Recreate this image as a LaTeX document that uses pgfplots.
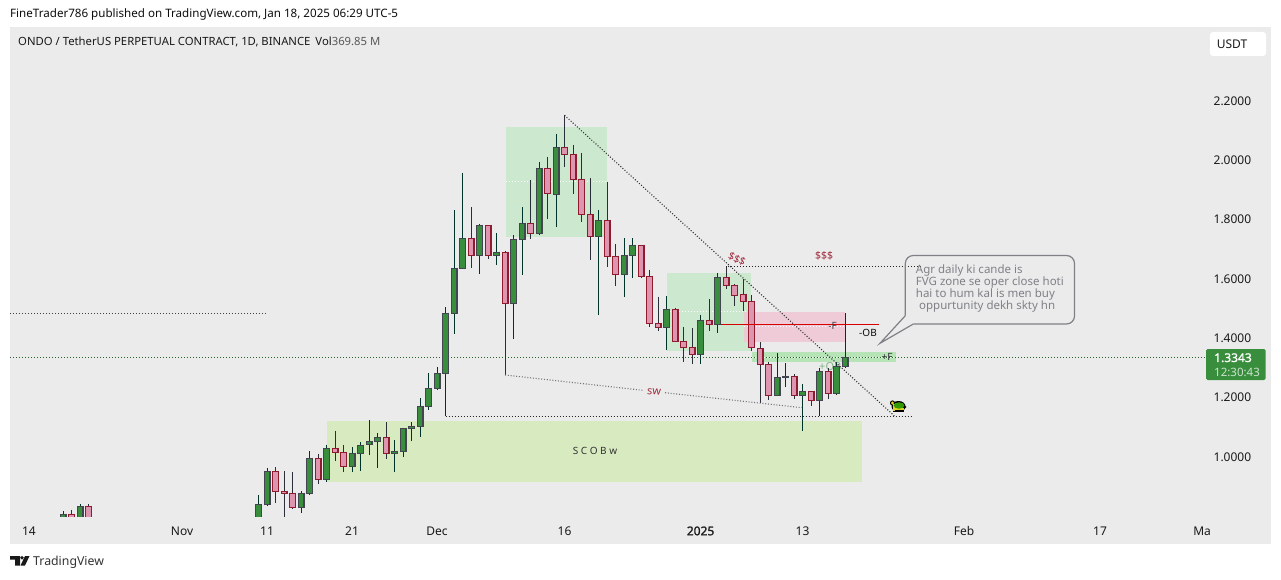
\documentclass[border=0pt]{standalone}
\usepackage{fontspec}
\setmainfont{Noto Sans}
\newfontfamily\fakebold{Noto Sans}[FakeBold=1.4]
\usepackage{pgfplots}
\usepackage{pgfplotstable}
\pgfplotsset{compat=1.18}
\definecolor{panel}{HTML}{EBEBEB}
\definecolor{upfill}{HTML}{388E3C}
\definecolor{upedge}{HTML}{434651}
\definecolor{upwick}{HTML}{00332A}
\definecolor{dnfill}{HTML}{DE95B0}
\definecolor{dnedge}{HTML}{8E1B2E}
\definecolor{dnwick}{HTML}{2A2E39}
\definecolor{zonegreen}{HTML}{C5E8C9}
\definecolor{zonepink}{HTML}{F1C4D3}
\definecolor{zoneF}{HTML}{A9E3AB}
\definecolor{zonescob}{HTML}{D4EBB6}
\definecolor{annot}{HTML}{A02C3E}
\definecolor{bubble}{HTML}{7F8187}
\newcommand{\tvfont}[1]{\fontsize{#1}{#1}\selectfont}

% day 0 = 1 Dec 2024; low/body values below 0.80 are cut off by the pane
\pgfplotstableread{
d high top bot low
-44 0.8163 0.8051 0.78 0.76
-42 0.8399 0.8320 0.78 0.76
-21 0.8702 0.8388 0.78 0.76
-20 0.9601 0.9500 0.8388 0.8332
-16 0.8837 0.8759 0.8276 0.8096
-15 1.0186 0.9938 0.8747 0.8702
-13 1.0388 1.0275 0.9231 0.9141
-10 1.0309 1.0107 0.9657 0.9478
-9 1.0489 1.0377 1.0096 0.9511
-8 1.1231 1.0511 1.0399 1.0051
-7 1.0781 1.0646 1.0511 0.9613
-5 1.0556 1.0174 1.0096 0.9478
-4 1.0950 1.0950 1.0163 0.9983
-3 1.1163 1.1017 1.0938 1.0523
-2 1.1972 1.1691 1.1006 1.0657
-1 1.2815 1.2298 1.1680 1.1568
0 1.3017 1.2803 1.2298 1.2242
1 1.5039 1.4826 1.2803 1.1365
2 1.8309 1.6343 1.4826 1.4141
3 1.9556 1.7354 1.6343 1.6343
5 1.7826 1.7792 1.6781 1.6163
7 1.7534 1.6882 1.6781 1.6466
9 1.7455 1.7320 1.5163 1.3972
10 1.8410 1.7860 1.7320 1.6129
12 1.9927 1.9714 1.7523 1.7466
14 2.0871 2.0421 1.8837 1.7747
19 1.8309 1.7961 1.7421 1.4781
22 1.7354 1.6781 1.6141 1.5388
23 1.7354 1.7118 1.6781 1.6028
27 1.5410 1.4961 1.4354 1.3590
31 1.4770 1.4590 1.3444 1.3118
33 1.6186 1.6040 1.4455 1.4174
40 1.3489 1.2669 1.2062 1.2062
41 1.3141 1.2702 1.2669 1.2332
43 1.2433 1.2197 1.2062 1.0860
45 1.2972 1.2871 1.1893 1.1354
47 1.3174 1.3040 1.2129 1.2084
48 1.4826 1.3343 1.3040 1.2972
}\upcandles

\pgfplotstableread{
d high top bot low
-43 0.8197 0.8051 0.78 0.76
-41 0.8399 0.8320 0.78 0.76
-19 0.9635 0.9500 0.8815 0.8433
-18 0.9511 0.8826 0.8747 0.76
-17 0.9478 0.8759 0.8276 0.8242
-14 1.0084 0.9938 0.9231 0.9073
-12 1.0860 1.0275 1.0141 0.9848
-11 1.0388 1.0141 0.9657 0.9478
-6 1.1163 1.0646 1.0096 0.9916
4 1.8410 1.7354 1.6781 1.6365
6 1.7792 1.7792 1.6781 1.6669
8 1.6916 1.6882 1.5163 1.2747
11 1.9320 1.7860 1.7523 1.7343
13 2.0096 1.9714 1.8871 1.8017
15 2.1500 2.0421 2.0186 1.9770
16 2.0500 2.0186 1.9343 1.8860
17 2.0230 1.9343 1.8163 1.7905
18 1.9377 1.8163 1.7421 1.6624
20 1.9253 1.7961 1.6747 1.6399
21 1.7163 1.6747 1.6141 1.5759
24 1.7118 1.7118 1.6073 1.6028
25 1.6287 1.6073 1.4489 1.4365
26 1.5377 1.4489 1.4354 1.4242
28 1.5006 1.4961 1.3882 1.3860
29 1.4354 1.3882 1.3680 1.3197
30 1.4320 1.3680 1.3444 1.3118
32 1.5298 1.4590 1.4455 1.4242
34 1.6422 1.6040 1.5770 1.5646
35 1.5815 1.5770 1.5433 1.5085
36 1.5972 1.5467 1.5231 1.4893
37 1.5433 1.5231 1.3680 1.3556
38 1.3849 1.3646 1.3107 1.1815
39 1.3174 1.3107 1.2062 1.1893
42 1.2770 1.2702 1.2062 1.1950
44 1.2197 1.2197 1.1893 1.1714
46 1.2972 1.2871 1.2129 1.1950
}\downcandles

% table, wick colour, edge colour, fill colour
\newcommand{\candles}[4]{%
  \addplot[draw=none, error bars/.cd, y dir=minus, y explicit, error mark=none,
    error bar style={draw=#2, line width=1pt}]
    table[x=d, y=high, y error minus expr=\thisrow{high}-\thisrow{low}] {#1};
  \addplot[draw=none, error bars/.cd, y dir=minus, y explicit, error mark=none,
    error bar style={draw=#3, line width=7pt}]
    table[x=d, y expr=\thisrow{top}+0.002, y error minus expr=\thisrow{top}-\thisrow{bot}+0.004] {#1};
  \addplot[draw=none, error bars/.cd, y dir=minus, y explicit, error mark=none,
    error bar style={draw=#4, line width=4.8pt}]
    table[x=d, y expr=\thisrow{top}-0.002, y error minus expr={max(\thisrow{top}-\thisrow{bot}-0.004,0)}] {#1};
}
% x1 x2 y1 y2 colour
\newcommand{\zone}[5]{%
  \addplot[fill=#5, draw=none, fill opacity=.8] coordinates {(#1,#3) (#2,#3) (#2,#4) (#1,#4)};
}

\begin{document}
\begin{tikzpicture}[x=1pt,y=1pt]
\path[use as bounding box] (0,0) rectangle (1281,579);
\fill[white] (0,0) rectangle (1281,579);
\fill[panel] (10,35) rectangle (1271,552);

\node[anchor=west, text=upfill!60!panel, inner sep=0] at (819,212.5) {\tvfont{11}+OB};

\begin{axis}[
    at={(10pt,63pt)}, anchor=south west,
    scale only axis, width=1197pt, height=489pt,
    xmin=-50.235, xmax=90.588, ymin=0.79944, ymax=2.44776,
    axis line style={draw=none}, major tick length=0pt,
    xtick={-48,-30,-20,-10,0,15,31,43,62,78,90},
    xticklabels={14,Nov,11,21,Dec,16,{\fakebold 2025},13,Feb,17,Ma},
    xticklabel style={yshift=-7pt, text=black!90},
    ytick={1,1.2,1.4,1.6,1.8,2,2.2},
    yticklabel pos=right,
    yticklabel style={anchor=west, xshift=3pt, yshift=-.5pt, text=black!90},
    yticklabels={1.0000,1.2000,1.4000,1.6000,1.8000,2.0000,2.2000},
    tick label style={font=\tvfont{12}},
]
% zones
\zone{8.12}{20}{1.7409}{2.1107}{zonegreen}
\zone{27.06}{36.94}{1.3556}{1.6185}{zonegreen}
\zone{36.1}{48}{1.3860}{1.4871}{zonepink}
\zone{37.06}{54}{1.3186}{1.3523}{zoneF}
\zone{-12.94}{50}{0.9151}{1.1197}{zonescob}
% zone midlines
\addplot[white, line width=.8pt, dash pattern=on 1pt off 2pt] coordinates {(8.12,1.9277) (20,1.9277)};
\addplot[white, line width=.8pt, dash pattern=on 1pt off 2pt] coordinates {(27.06,1.4893) (36.94,1.4893)};
\addplot[white, line width=.8pt, dash pattern=on 1pt off 2pt] coordinates {(36.1,1.4389) (48,1.4389)};
\addplot[white, line width=.8pt, dash pattern=on 1pt off 2pt] coordinates {(37.06,1.3354) (54,1.3354)};
% levels
\addplot[black!75, line width=.8pt, dash pattern=on 1pt off 2pt] coordinates {(-50.2,1.4837) (-20,1.4837)};
\addplot[upfill!70!black, line width=.8pt, dash pattern=on 1pt off 2pt] coordinates {(-50.2,1.3343) (90.6,1.3343)};
\addplot[black!85, line width=.9pt, dash pattern=on 1pt off 2pt] coordinates {(1,1.1365) (56,1.1365)};
\addplot[black!85, line width=.9pt, dash pattern=on 1pt off 2pt] coordinates {(34.2,1.6411) (56.8,1.6411)};

\candles{\upcandles}{upwick}{upedge}{upfill}
\candles{\downcandles}{dnwick}{dnedge}{dnfill}

% trend lines and the -F line
\addplot[black!80, line width=1.1pt, dash pattern=on 1pt off 1.8pt] coordinates {(15,2.15) (53.9,1.1342)};
\addplot[black!55, line width=1.1pt, dash pattern=on 1pt off 1.8pt] coordinates {(8,1.2747) (24.24,1.2231)};
\addplot[black!55, line width=1.1pt, dash pattern=on 1pt off 1.8pt] coordinates {(26.82,1.2151) (42.9,1.1645)};
\addplot[red!85!black, line width=.8pt] coordinates {(33.4,1.4456) (52,1.4456)};
\end{axis}

% from here on: page pixels, y down
\begin{scope}[x=1pt,y=-1pt,shift={(0pt,579pt)}]
\node[anchor=west, inner sep=0, text=black!95] at (10,14) {\tvfont{11.6}FineTrader786 published on TradingView.com, Jan 18, 2025 06:29 UTC-5};
\node[anchor=west, inner sep=0, text=black!90] at (18,42) {\tvfont{11.3}ONDO / TetherUS PERPETUAL CONTRACT, 1D, BINANCE\hspace{5pt}Vol\textcolor{black!65}{369.85 M}};

\fill[white, rounded corners=3pt] (1210,32) rectangle (1266,56);
\node[inner sep=0, text=black!90] at (1232,44) {\tvfont{12}USDT};

\fill[upfill, rounded corners=1.5pt] (1206,349) rectangle (1265.5,380);
\node[anchor=west, inner sep=0, text=white] at (1214,357.7) {\tvfont{12}\fakebold 1.3343};
\node[anchor=west, inner sep=0, text=white!75!upfill] at (1214,372) {\tvfont{11.5}12:30:43};

% annotations
\node[inner sep=0, text=annot, rotate=-25] at (737,259) {\tvfont{10.5}\$\$\$};
\node[inner sep=0, text=annot] at (824,256) {\tvfont{10.5}\$\$\$};
\node[inner sep=0, text=annot, rotate=-5] at (654,392) {\tvfont{11}sw};
\node[inner sep=0, text=black!75] at (832.5,326) {\tvfont{10}-F};
\node[inner sep=0, text=black!95] at (868,332.5) {\tvfont{10}-OB};
\node[inner sep=0, text=black!80] at (887,356.5) {\tvfont{10}+F};
\node[inner sep=0, text=black!80] at (595,451) {\tvfont{10}S C O B w};

% callout
\draw[bubble, line width=1.2pt, rounded corners=8pt] (905.3,315.7) -- (905.3,255.5) -- (1074.5,255.5) -- (1074.5,324) -- (913.3,324);
\draw[bubble, line width=1.2pt] (905.3,315.7) -- (880,343.3) -- (913.3,324);
\foreach \yy/\xx/\tt in {271/915.7/Agr daily ki cande is, 283/915.7/FVG zone se oper close hoti, 295/915.7/hai to hum kal is men buy, 307/919/oppurtunity dekh skty hn}
  \node[anchor=west, inner sep=0, text=bubble] at (\xx,\yy) {\tvfont{11.5}\tt};

% turtle
\fill[black] (893,411.8) rectangle (904,409);
\fill[black] (905,407) ellipse (1.5 and 1);
\fill[black] (898.5,406.5) ellipse (7 and 5.5);
\fill[black] (892.5,403) circle (2.6);
\fill[yellow!85!black] (892.5,403) circle (1.7);
\fill[yellow!85!black] (892.5,404) rectangle (895,410.5);
\fill[yellow!85!black] (893,408) rectangle (904,409.5);
\fill[green!50!black!80!yellow] (899,405.5) ellipse (5.4 and 3.2);

% footer logo
\fill[black!90] (10,556) -- (20,556) -- (20,565.5) -- (15,565.5) -- (15,559.7) -- (10,559.7) -- cycle;
\fill[black!90] (22,557.7) circle (1.9);
\fill[black!90] (25,556) -- (29.5,556) -- (25,565.5) -- (20.5,565.5) -- cycle;
\node[anchor=west, inner sep=0, text=black!80] at (33,562) {\tvfont{12.3}TradingView};
\end{scope}
\end{tikzpicture}
\end{document}
